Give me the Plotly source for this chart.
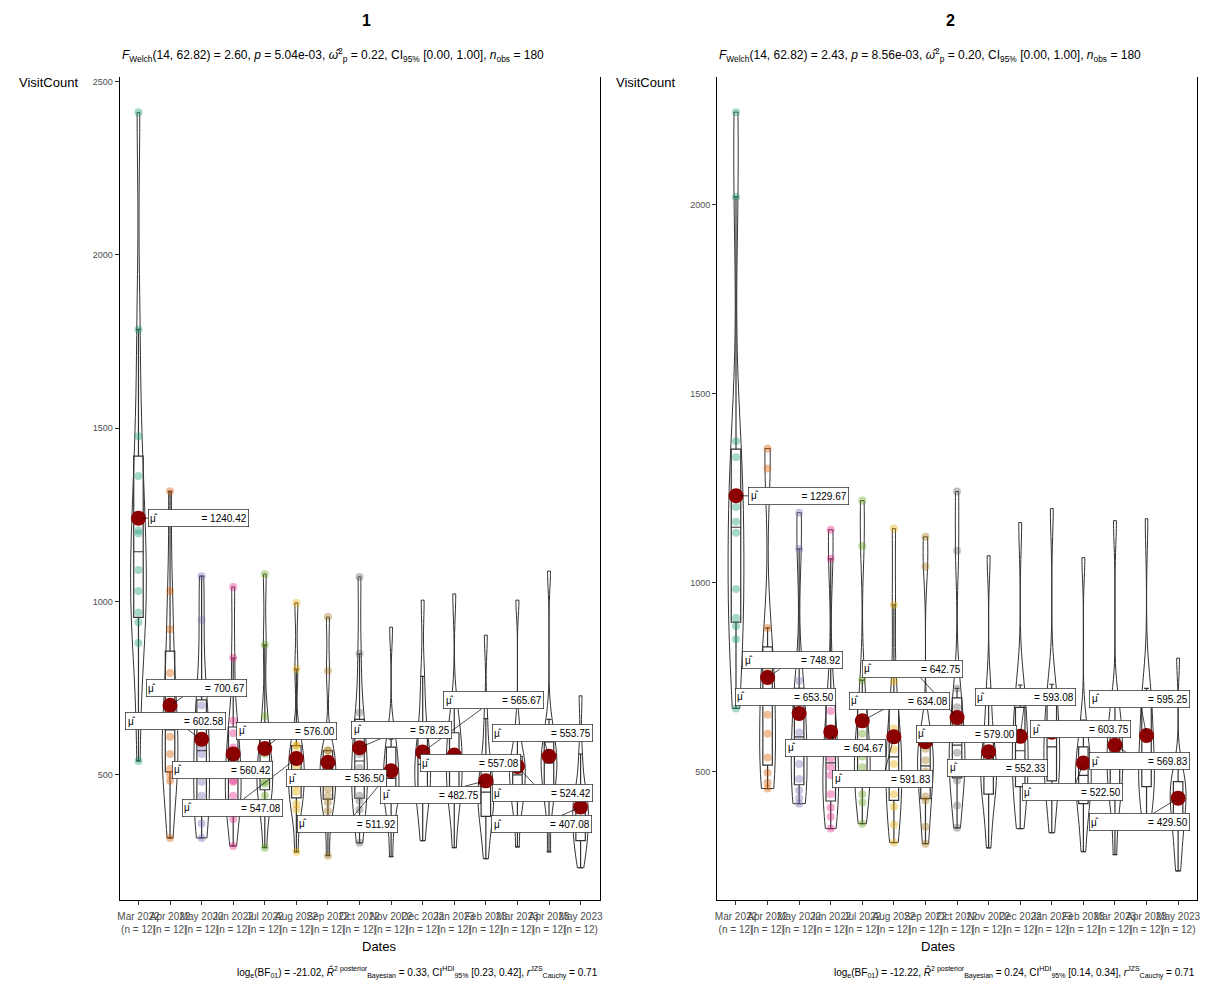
import numpy as np
import plotly.graph_objects as go

# ---------------- data ----------------
months = ["Mar 2022", "Apr 2022", "May 2022", "Jun 2022", "Jul 2022", "Aug 2022",
          "Sep 2022", "Oct 2022", "Nov 2022", "Dec 2022", "Jan 2023", "Feb 2023",
          "Mar 2023", "Apr 2023", "May 2023"]

visits_panel1 = [
    [540, 880, 940, 968, 1030, 1091, 1196, 1205, 1362, 1477, 1785, 2411],
    [318, 483, 500, 517, 560, 610, 650, 708, 794, 920, 1030, 1318],
    [318, 360, 400, 440, 480, 560, 580, 640, 700, 733, 947, 1073],
    [295, 373, 400, 440, 480, 483, 520, 579, 620, 656, 837, 1042],
    [290, 400, 440, 474, 480, 500, 520, 560, 624, 670, 875, 1079],
    [278, 400, 416, 451, 470, 500, 520, 560, 584, 585, 805, 996],
    [267, 396, 420, 440, 460, 500, 520, 540, 570, 570, 800, 955],
    [304, 400, 425, 440, 480, 520, 560, 570, 640, 680, 849, 1071],
    [264, 380, 410, 440, 460, 480, 500, 520, 560, 600, 603, 926],
    [310, 400, 430, 460, 490, 520, 540, 570, 600, 680, 784, 1004],
    [290, 400, 430, 460, 490, 520, 550, 580, 610, 633, 700, 1022],
    [258, 330, 360, 400, 420, 440, 460, 480, 520, 560, 662, 903],
    [292, 380, 420, 440, 470, 490, 510, 540, 540, 567, 640, 1004],
    [278, 400, 440, 470, 500, 520, 549, 550, 580, 610, 660, 1088],
    [232, 290, 300, 320, 360, 380, 400, 410, 435, 470, 560, 728],
]

visits_panel2 = [
    [667, 850, 885, 906, 983, 1132, 1161, 1200, 1332, 1374, 2021, 2245],
    [455, 471, 497, 537, 600, 650, 700, 760, 780, 880, 1302, 1355],
    [415, 430, 450, 480, 520, 580, 603, 650, 700, 740, 1089, 1185],
    [349, 380, 404, 440, 490, 511, 535, 584, 660, 700, 1063, 1140],
    [362, 418, 440, 480, 511, 540, 562, 600, 640, 742, 1097, 1217],
    [312, 359, 407, 440, 480, 520, 558, 590, 614, 738, 941, 1143],
    [309, 354, 423, 434, 495, 500, 530, 560, 580, 600, 1042, 1121],
    [351, 410, 476, 490, 520, 550, 590, 611, 670, 720, 1084, 1241],
    [298, 380, 420, 460, 480, 500, 520, 550, 580, 649, 720, 1071],
    [349, 400, 440, 480, 510, 540, 570, 600, 640, 700, 729, 1159],
    [338, 420, 460, 490, 520, 550, 580, 610, 650, 700, 731, 1196],
    [288, 360, 400, 430, 460, 480, 500, 520, 550, 580, 636, 1066],
    [280, 400, 440, 470, 500, 520, 550, 580, 610, 650, 674, 1164],
    [383, 420, 450, 470, 500, 520, 560, 601, 660, 690, 720, 1169],
    [237, 290, 330, 360, 390, 410, 430, 450, 470, 477, 510, 800],
]

panel_titles = ["1", "2"]
subtitles = [
    "<i>F</i><sub>Welch</sub>(14, 62.82) = 2.60, <i>p</i> = 5.04e-03, "
    "<i>ω̂</i><sup>2</sup><sub>p</sub> = 0.22, CI<sub>95%</sub> [0.00, 1.00], "
    "<i>n</i><sub>obs</sub> = 180",
    "<i>F</i><sub>Welch</sub>(14, 62.82) = 2.43, <i>p</i> = 8.56e-03, "
    "<i>ω̂</i><sup>2</sup><sub>p</sub> = 0.20, CI<sub>95%</sub> [0.00, 1.00], "
    "<i>n</i><sub>obs</sub> = 180",
]
captions = [
    "log<sub>e</sub>(BF<sub>01</sub>) = -21.02, <i>R̂</i><sup>2 posterior</sup><sub>Bayesian</sub> = 0.33, "
    "CI<sup>HDI</sup><sub>95%</sub> [0.23, 0.42], <i>r</i><sup>JZS</sup><sub>Cauchy</sub> = 0.71",
    "log<sub>e</sub>(BF<sub>01</sub>) = -12.22, <i>R̂</i><sup>2 posterior</sup><sub>Bayesian</sub> = 0.24, "
    "CI<sup>HDI</sup><sub>95%</sub> [0.14, 0.34], <i>r</i><sup>JZS</sup><sub>Cauchy</sub> = 0.71",
]
y_ticks = [[500, 1000, 1500, 2000, 2500], [500, 1000, 1500, 2000]]

# label offsets (pixels) for the repelled mean labels
label_dx = [
    [60, 26, -26, -11, 22, -64, 9, 42, -44, 71, 16, -55, 25, -7, -39],
    [63, 25, -14, 5, 37, -11, 41, -45, 9, 5, 29, -11, 25, -7, -39],
]
label_dy = [
    [0, -17, -18, 16, -18, 49, 16, -18, 53, -52, 8, 14, 27, -23, 17],
    [0, -17, -17, 16, -20, 42, -8, -49, 16, -39, -3, 29, 16, -37, 24],
]

point_colors = ["#1B9E77", "#D95F02", "#7570B3", "#E7298A",
                "#66A61E", "#E6AB02", "#A6761D", "#666666"]

# ---------------- layout geometry ----------------
W, H = 1215, 1001
FONT = "Liberation Sans, Arial, sans-serif"
x_dom = [[118 / W, 600 / W], [718 / W, 1200 / W]]
y_dom = [1 - 900 / H, 1 - 77 / H]
y_ranges = [[139, 2513], [160, 2338]]
panel_left_px = [118, 718]
panel_right_px = [600, 1200]


def hexa(h, a):
    h = h.lstrip("#")
    return "rgba(%d,%d,%d,%.2f)" % (int(h[0:2], 16), int(h[2:4], 16), int(h[4:6], 16), a)


def nrd0(v):
    v = np.asarray(v, float)
    sd = v.std(ddof=1)
    q75, q25 = np.percentile(v, [75, 25])
    lo = min(sd, (q75 - q25) / 1.34)
    if lo <= 0:
        lo = sd
    return 0.9 * lo * len(v) ** (-0.2)


fig = go.Figure()
arrow_anns = []
box_anns = []
text_anns = []
tick_text = [f"{m}<br>(n = {len(visits_panel1[i])})" for i, m in enumerate(months)]

for p, data in enumerate([visits_panel1, visits_panel2]):
    xa = "x" if p == 0 else "x2"
    ya = "y" if p == 0 else "y2"
    # jittered points (palette only covers first 8 groups)
    for i, vals in enumerate(data):
        if i < len(point_colors):
            fig.add_trace(go.Scatter(
                x=[months[i]] * len(vals), y=vals, mode="markers", xaxis=xa, yaxis=ya,
                marker=dict(size=8, color=hexa(point_colors[i], 0.4), line=dict(width=0)),
                showlegend=False, hoverinfo="skip"))
    # boxplots
    for i, vals in enumerate(data):
        fig.add_trace(go.Box(
            x=[months[i]] * len(vals), y=vals, xaxis=xa, yaxis=ya, width=0.3,
            quartilemethod="linear", boxpoints="outliers",
            marker=dict(opacity=0, size=1), fillcolor="rgba(255,255,255,0.2)",
            line=dict(color="#333333", width=1.2), showlegend=False, hoverinfo="skip"))
    # violins
    for i, vals in enumerate(data):
        fig.add_trace(go.Violin(
            x=[months[i]] * len(vals), y=vals, xaxis=xa, yaxis=ya, width=0.5,
            spanmode="hard", bandwidth=nrd0(vals), scalemode="width",
            scalegroup=f"panel{p}", points=False, box_visible=False,
            meanline_visible=False, fillcolor="rgba(255,255,255,0.2)",
            line=dict(color="#333333", width=1), showlegend=False, hoverinfo="skip"))
    # means
    means = [float(np.mean(v)) for v in data]
    fig.add_trace(go.Scatter(
        x=months, y=means, mode="markers", xaxis=xa, yaxis=ya,
        marker=dict(size=15, color="#8B0000"), showlegend=False, hoverinfo="skip"))
    for i, m in enumerate(means):
        dx, dy = label_dx[p][i], label_dy[p][i]
        common = dict(x=m and months[i], y=m, xref=xa, yref=ya, ax=dx, ay=dy,
                      width=96, height=13, borderpad=2, borderwidth=0.7,
                      font=dict(family=FONT, size=10, color="black"))
        # segment first (so later label boxes cover it)
        arrow_anns.append(dict(
            text="", showarrow=True, arrowhead=0, arrowwidth=0.7,
            arrowcolor="black", standoff=4, bordercolor="rgba(0,0,0,0)", **common))
        box_anns.append(dict(
            text=f"= {m:.2f}", showarrow=True, arrowcolor="rgba(0,0,0,0)",
            align="right", bgcolor="white", bordercolor="#222222", **common))
        box_anns.append(dict(
            x=months[i], y=m, xref=xa, yref=ya, showarrow=False,
            xshift=dx - 44, yshift=-dy, text="\u03bc\u0302",
            font=dict(family=FONT, size=10, color="black")))

    cx = (panel_left_px[p] + panel_right_px[p]) / 2 / W
    text_anns += [
        dict(x=cx, y=1 - 21 / H, xref="paper", yref="paper", showarrow=False,
             yanchor="middle",
             text=f"<b>{panel_titles[p]}</b>", font=dict(family=FONT, size=16, color="black")),
        dict(x=panel_left_px[p] / W, y=1 - 55 / H, xref="paper", yref="paper", showarrow=False,
             xanchor="left", yanchor="middle", text=subtitles[p],
             font=dict(family=FONT, size=12, color="black")),
        dict(x=(panel_left_px[p] - 103) / W, y=1 - 82 / H, xref="paper", yref="paper",
             showarrow=False, xanchor="left", yanchor="middle", text="VisitCount",
             font=dict(family=FONT, size=13, color="black")),
        dict(x=cx, y=1 - 946 / H, xref="paper", yref="paper", showarrow=False,
             yanchor="middle", text="Dates", font=dict(family=FONT, size=13, color="black")),
        dict(x=panel_right_px[p] / W, y=1 - 972 / H, xref="paper", yref="paper",
             showarrow=False, xanchor="right", yanchor="middle", text=captions[p],
             font=dict(family=FONT, size=10, color="black")),
    ]

axis_common_x = dict(
    type="category", categoryorder="array", categoryarray=months, range=[-0.6, 14.6],
    tickmode="array", tickvals=months, ticktext=tick_text, tickangle=0,
    showline=True, linecolor="black", linewidth=1, ticks="outside", ticklen=4,
    tickcolor="#333333", showgrid=False, zeroline=False, ticklabelstandoff=3,
    tickfont=dict(family=FONT, size=10, color="#4D4D4D"))
axis_common_y = dict(
    showline=True, linecolor="black", linewidth=1, mirror=True, ticks="outside",
    ticklen=4, tickcolor="#333333", showgrid=False, zeroline=False,
    tickfont=dict(family=FONT, size=9, color="#4D4D4D"), tickmode="array")

fig.update_layout(
    width=W, height=H, margin=dict(l=0, r=0, t=0, b=0),
    paper_bgcolor="white", plot_bgcolor="white",
    font=dict(family=FONT), showlegend=False,
    violinmode="overlay", boxmode="overlay",
    xaxis=dict(domain=x_dom[0], anchor="y", **axis_common_x),
    xaxis2=dict(domain=x_dom[1], anchor="y2", **axis_common_x),
    yaxis=dict(domain=y_dom, anchor="x", range=y_ranges[0], tickvals=y_ticks[0], **axis_common_y),
    yaxis2=dict(domain=y_dom, anchor="x2", range=y_ranges[1], tickvals=y_ticks[1], **axis_common_y),
    annotations=arrow_anns + box_anns + text_anns,
)

fig.write_html("out.html")
